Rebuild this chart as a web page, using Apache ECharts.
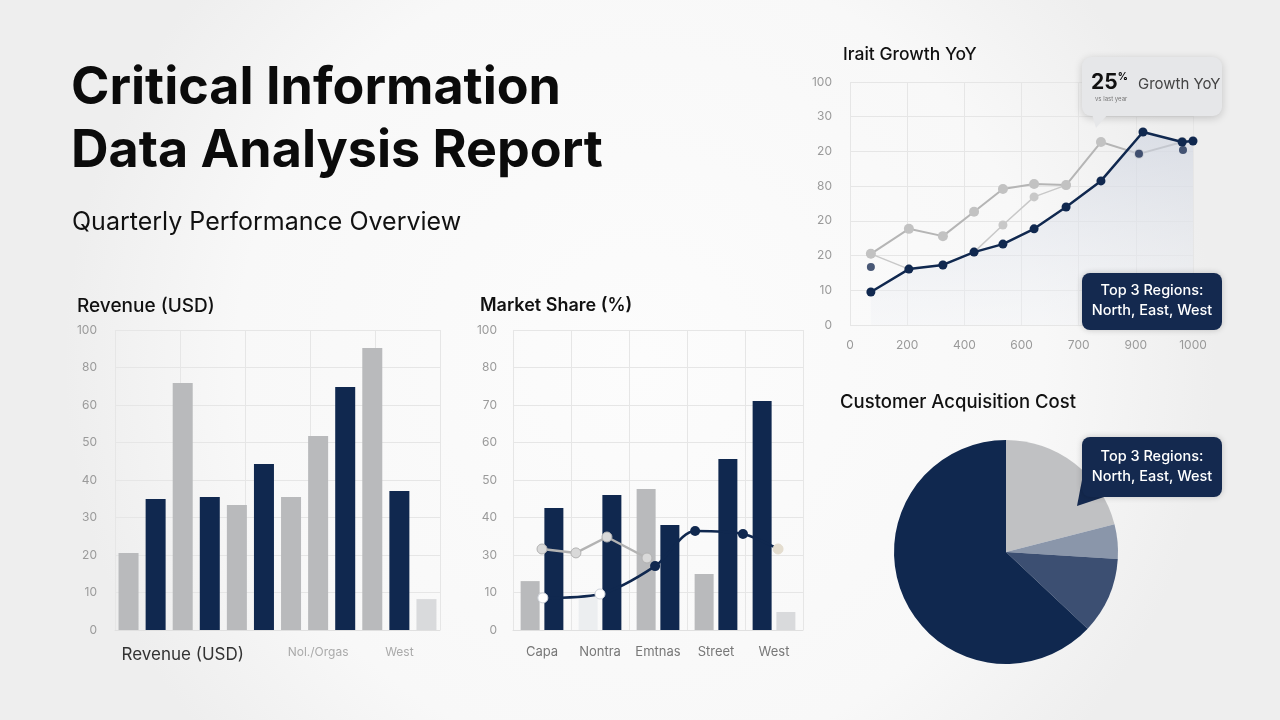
<!DOCTYPE html>
<html><head><meta charset="utf-8">
<script src="https://cdn.jsdelivr.net/npm/echarts@6/dist/echarts.min.js"></script>
<style>html,body{margin:0;padding:0;background:#f8f8f8}#c{width:1280px;height:720px}</style>
</head><body><div id="c"></div>
<script>
// ---------- DATA ----------
const revenueCats = ['', '', 'Revenue (USD)', '', '', '', '', 'Nol./Orgas', '', '', 'West', ''];
const revenueValues = [25.7, 43.7, 82.3, 44.3, 41.7, 55.3, 44.3, 64.7, 81, 94, 46.3, 10.3];
const revenueTicks = ['0', '10', '20', '30', '40', '50', '60', '80', '100'];

const marketCats = ['Capa', 'Nontra', 'Emtnas', 'Street', 'West'];
const marketLeft = [16.3, 11, 47, 18.7, 76.3];
const marketRight = [40.7, 45, 35, 57, 6];
const marketTicks = ['0', '10', '30', '40', '50', '60', '70', '80', '100'];
const marketLineGrey = [[10, 27], [21.7, 25.7], [32.4, 31], [46.2, 24]];
const marketLineNavy = [[10.3, 10.7], [30, 12], [49, 21.3], [62.8, 33], [79.3, 32], [91.4, 27]];

const growthXTicks = ['0', '200', '400', '600', '700', '900', '1000'];
const growthYTicks = ['0', '10', '20', '20', '80', '20', '30', '100'];
const growthNavy = [[73, 9.5], [206, 16.1], [325, 17.3], [434, 21], [535, 23.3], [644, 27.7], [756, 34], [878, 41.5], [1025, 55.6], [1162, 52.7], [1200, 53]];
const growthUpper = [[73, 20.5], [206, 27.7], [325, 25.6], [434, 32.6], [535, 39.2], [644, 40.6], [756, 40.3], [878, 52.7], [1011, 49.3], [1162, 52.7]];
const growthMiddle = [[73, 20.5], [206, 16.1], [325, 17.3], [434, 21], [535, 28.8], [644, 36.9], [756, 40.3]];
const growthDots = [[73, 16.7], [1011, 49.3], [1165, 50.4]];

const pieNames = ['Segment A', 'Segment B', 'Segment C', 'Segment D'];
const pieValues = [21, 5, 11, 63];

// ---------- STYLES ----------
const NAVY = '#10284f', GREY = '#b9babc', LIGHT = '#d9dadc', FAINT = '#eceef0';
const revenueColors = [GREY, NAVY, GREY, NAVY, GREY, NAVY, GREY, GREY, NAVY, GREY, NAVY, LIGHT];
const marketLeftColors = [GREY, FAINT, GREY, GREY, NAVY];
const marketRightColors = [NAVY, NAVY, NAVY, NAVY, LIGHT];
const pieColors = ['#c0c1c3', '#8a96aa', '#3c4f72', NAVY];
const FONT = 'Inter, "Open Sans", sans-serif';
const splitL = {show: true, lineStyle: {color: '#e6e6e6', width: 1}};
const axLbl = {color: '#9a9a9a', fontSize: 12, fontFamily: FONT};

const chart = echarts.init(document.getElementById('c'), null, {renderer: 'canvas'});
chart.setOption({
  backgroundColor: {type: 'radial', x: 0.5, y: 0.5, r: 0.8,
    colorStops: [{offset: 0, color: '#fcfcfc'}, {offset: 0.7, color: '#f8f8f8'}, {offset: 1, color: '#eeeeee'}]},
  animation: false,
  title: [
    {text: 'Critical Information\nData Analysis Report', left: 66, top: 52,
     textStyle: {fontFamily: FONT, fontSize: 52, fontWeight: 700, color: '#0b0b0b', lineHeight: 63}},
    {text: 'Quarterly Performance Overview', left: 67, top: 202,
     textStyle: {fontFamily: FONT, fontSize: 25, fontWeight: 400, color: '#111', lineHeight: 30}},
    {text: 'Revenue (USD)', left: 72, top: 292, textStyle: {fontFamily: FONT, fontSize: 19, fontWeight: 500, color: '#111'}},
    {text: 'Market Share (%)', left: 475, top: 292, textStyle: {fontFamily: FONT, fontSize: 18, fontWeight: 600, color: '#111'}},
    {text: 'Irait Growth YoY', left: 838, top: 41, textStyle: {fontFamily: FONT, fontSize: 17.5, fontWeight: 500, color: '#111'}},
    {text: 'Customer Acquisition Cost', left: 835, top: 388, textStyle: {fontFamily: FONT, fontSize: 18.5, fontWeight: 500, color: '#111'}}
  ],
  grid: [
    {left: 115, right: 840, top: 330, bottom: 90},
    {left: 513, right: 477, top: 330, bottom: 90},
    {left: 850, right: 87, top: 82, bottom: 395}
  ],
  xAxis: [
    {type: 'category', gridIndex: 0, data: revenueCats, axisTick: {show: false},
     axisLine: {lineStyle: {color: '#e0e0e0'}}, splitLine: {show: false},
     axisLabel: {interval: 0, margin: 16, formatter: (v, i) => i === 2 ? '{a|' + v + '}' : '{b|' + v + '}',
       rich: {a: {fontSize: 17, color: '#333', fontFamily: FONT}, b: {fontSize: 12, color: '#aaa', fontFamily: FONT}}}},
    {type: 'value', gridIndex: 0, min: 0, max: 5, interval: 1, show: true, axisLabel: {show: false},
     axisLine: {show: false}, axisTick: {show: false}, splitLine: splitL},
    {type: 'category', gridIndex: 1, data: marketCats, axisTick: {show: false},
     axisLine: {lineStyle: {color: '#e0e0e0'}}, splitLine: splitL,
     axisLabel: {interval: 0, margin: 16, color: '#777', fontSize: 13, fontFamily: FONT}},
    {type: 'value', gridIndex: 1, min: 0, max: 100, show: false},
    {type: 'value', gridIndex: 2, min: 0, max: 1200, interval: 200, splitLine: splitL,
     axisLine: {show: false}, axisTick: {show: false},
     axisLabel: Object.assign({}, axLbl, {margin: 14, formatter: v => growthXTicks[Math.round(v / 200)]})}
  ],
  yAxis: [
    {type: 'value', gridIndex: 0, min: 0, max: 100, interval: 12.5, splitLine: splitL,
     axisLine: {show: false}, axisTick: {show: false},
     axisLabel: Object.assign({}, axLbl, {margin: 18, formatter: v => revenueTicks[Math.round(v / 12.5)]})},
    {type: 'value', gridIndex: 1, min: 0, max: 100, interval: 12.5, splitLine: splitL,
     axisLine: {show: false}, axisTick: {show: false},
     axisLabel: Object.assign({}, axLbl, {margin: 16, formatter: v => marketTicks[Math.round(v / 12.5)]})},
    {type: 'value', gridIndex: 2, min: 0, max: 70, interval: 10, splitLine: splitL,
     axisLine: {show: false}, axisTick: {show: false},
     axisLabel: Object.assign({}, axLbl, {margin: 18, formatter: v => growthYTicks[Math.round(v / 10)]})}
  ],
  series: [
    {type: 'bar', xAxisIndex: 0, yAxisIndex: 0, barWidth: 20,
     data: revenueValues.map((v, i) => ({value: v, itemStyle: {color: revenueColors[i]}}))},
    {type: 'bar', xAxisIndex: 2, yAxisIndex: 1, barWidth: 19, barGap: '25%',
     data: marketLeft.map((v, i) => ({value: v, itemStyle: {color: marketLeftColors[i]}}))},
    {type: 'bar', xAxisIndex: 2, yAxisIndex: 1, barWidth: 19,
     data: marketRight.map((v, i) => ({value: v, itemStyle: {color: marketRightColors[i]}}))},
    {type: 'line', xAxisIndex: 3, yAxisIndex: 1, data: marketLineGrey, symbol: 'circle', symbolSize: 10,
     lineStyle: {color: '#b3b3b3', width: 2.5}, itemStyle: {color: '#d9d9d9', borderColor: '#b3b3b3', borderWidth: 1}, z: 5},
    {type: 'line', xAxisIndex: 3, yAxisIndex: 1, smooth: 0.3, symbol: 'circle', symbolSize: 10,
     lineStyle: {color: NAVY, width: 2.5}, z: 6,
     data: marketLineNavy.map((p, i) => ({value: p, itemStyle: (i < 2) ? {color: '#ffffff', borderColor: '#cfd3da', borderWidth: 1}
        : (i === 5 ? {color: '#e4ddcf', borderColor: '#e4ddcf'} : {color: NAVY})}))},
    {type: 'line', xAxisIndex: 4, yAxisIndex: 2, data: growthNavy, symbol: 'circle', symbolSize: 9, z: 6,
     lineStyle: {color: NAVY, width: 2.5}, itemStyle: {color: NAVY},
     areaStyle: {color: {type: 'linear', x: 0, y: 0, x2: 0, y2: 1,
       colorStops: [{offset: 0, color: 'rgba(205,211,224,0.85)'}, {offset: 1, color: 'rgba(240,242,246,0.5)'}]}}},
    {type: 'line', xAxisIndex: 4, yAxisIndex: 2, data: growthUpper, symbol: 'circle', symbolSize: 10, z: 5,
     lineStyle: {color: '#b5b5b5', width: 2}, itemStyle: {color: '#c2c2c2'}},
    {type: 'line', xAxisIndex: 4, yAxisIndex: 2, data: growthMiddle, symbol: 'circle', symbolSize: 9, z: 4,
     lineStyle: {color: '#c8c8c8', width: 1.5}, itemStyle: {color: '#c8c8c8'}},
    {type: 'scatter', xAxisIndex: 4, yAxisIndex: 2, data: growthDots, symbolSize: 8, z: 7, itemStyle: {color: '#1d2f55'}},
    {type: 'pie', center: [1006, 552], radius: 112, startAngle: 90, clockwise: true,
     label: {show: false}, labelLine: {show: false}, silent: true,
     data: pieValues.map((v, i) => ({value: v, name: pieNames[i], itemStyle: {color: pieColors[i]}}))}
  ],
  graphic: [
    {type: 'group', z: 100, children: [
      {type: 'rect', z: 100, shape: {x: 1082, y: 57, width: 140, height: 59, r: 9},
       style: {fill: '#e6e7e9', shadowBlur: 8, shadowColor: 'rgba(0,0,0,0.18)', shadowOffsetY: 2}},
      {type: 'polygon', z: 101, shape: {points: [[1092, 114], [1108, 114], [1096, 128]]}, style: {fill: '#e6e7e9'}},
      {type: 'text', z: 102, x: 1091, y: 72, style: {text: '{a|25}{b|%}', rich: {a: {fontSize: 21, fontWeight: 700, fill: '#111', color: '#111', fontFamily: FONT}, b: {fontSize: 10, fontWeight: 700, color: '#333', fontFamily: FONT, verticalAlign: 'top'}}}},
      {type: 'text', z: 102, x: 1138, y: 77, style: {text: 'Growth YoY', fontSize: 15, fill: '#444', fontFamily: FONT}},
      {type: 'text', z: 102, x: 1095, y: 96, style: {text: 'vs last year', fontSize: 6, fill: '#777', fontFamily: FONT}}
    ]},
    {type: 'group', z: 100, children: [
      {type: 'rect', z: 100, shape: {x: 1082, y: 273, width: 140, height: 57, r: 8},
       style: {fill: '#14294f', shadowBlur: 6, shadowColor: 'rgba(0,0,0,0.2)'}},
      {type: 'text', z: 102, x: 1152, y: 301, style: {text: 'Top 3 Regions:\nNorth, East, West', align: 'center', verticalAlign: 'middle',
        fontSize: 14.5, fontWeight: 500, lineHeight: 20, fill: '#ffffff', fontFamily: FONT}}
    ]},
    {type: 'group', z: 100, children: [
      {type: 'polygon', z: 100, shape: {points: [[1082, 480], [1104, 497], [1077, 506]]}, style: {fill: '#14294f'}},
      {type: 'rect', z: 100, shape: {x: 1082, y: 437, width: 140, height: 60, r: 8},
       style: {fill: '#14294f', shadowBlur: 6, shadowColor: 'rgba(0,0,0,0.2)'}},
      {type: 'text', z: 102, x: 1152, y: 467, style: {text: 'Top 3 Regions:\nNorth, East, West', align: 'center', verticalAlign: 'middle',
        fontSize: 14.5, fontWeight: 500, lineHeight: 20, fill: '#ffffff', fontFamily: FONT}}
    ]}
  ]
});
</script></body></html>
